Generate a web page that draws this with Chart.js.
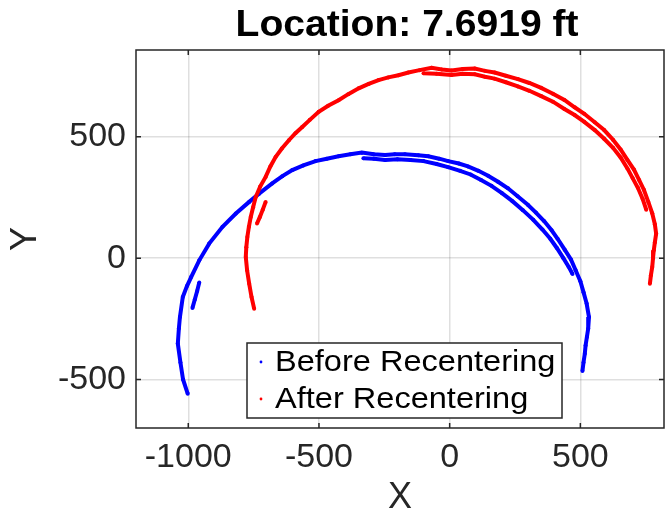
<!DOCTYPE html>
<html>
<head>
<meta charset="utf-8">
<script src="https://cdn.jsdelivr.net/npm/chart.js@4.4.1/dist/chart.umd.min.js"></script>
<style>
  html, body { margin: 0; padding: 0; background: #fff; }
  canvas { display: block; }
</style>
</head>
<body>
<canvas id="recenterChart" width="668" height="514"></canvas>
<script>
// Datos (null = corte entre trazos)
var chartTitle = "Location: 7.6919 ft";
var seriesNames = ["Before Recentering", "After Recentering"];
var xTicks = [-1000, -500, 0, 500];
var yTicks = [-500, 0, 500];

var beforeX = [-1002, -1020, -1030, -1040, -1036, -1032, -1021, -1005, -989, -958, -920, -869, -818, -767, -729, -679, -640, -602, -560, -513, -470, -425, -380, -336, -290, -247, -210, -171, -120, -82, -40, -6, 35, 70, 110, 147, 185, 223, 260, 299, 330, 362, 390, 413, 440, 464, 482, 500, 512, 524, 533, 530, 525, 520, 517, 512, 508,
  null,
  -330, -290, -247, -200, -150, -100, -50, -6, 40, 80, 120, 160, 200, 240, 280, 320, 355, 385, 410, 435, 455, 470,
  null,
  -958, -966, -975, -984];
var beforeY = [-559, -500, -430, -352, -290, -243, -160, -115, -78, -9, 60, 129, 184, 232, 266, 308, 338, 363, 382, 400, 410, 420, 428, 435, 428, 425, 428, 428, 424, 420, 410, 400, 390, 378, 360, 340, 315, 288, 255, 220, 188, 152, 115, 80, 35, -5, -50, -95, -140, -187, -243, -290, -325, -360, -394, -430, -465,
  null,
  412, 410, 405, 408, 405, 400, 388, 375, 360, 345, 322, 298, 268, 235, 198, 158, 118, 80, 42, 0, -35, -65,
  null,
  -100, -135, -170, -205];

var afterX = [-748, -758, -767, -775, -780, -778, -774, -768, -761, -752, -742, -725, -704, -686, -666, -642, -615, -590, -564, -535, -501, -465, -425, -388, -348, -310, -272, -235, -196, -158, -115, -69, -30, 7, 50, 96, 135, 172, 215, 261, 305, 350, 395, 439, 478, 515, 555, 591, 625, 654, 680, 705, 725, 743, 760, 775, 785, 790, 785, 781, 778, 775, 770, 766,
  null,
  -100, -50, 7, 50, 96, 135, 172, 215, 261, 305, 350, 395, 439, 478, 515, 555, 591, 625, 654, 680, 700, 720, 738, 752,
  null,
  -704, -715, -726, -737];
var afterY = [-208, -160, -105, -50, 5, 45, 87, 130, 170, 210, 252, 295, 335, 378, 417, 452, 486, 515, 541, 570, 603, 628, 651, 676, 700, 718, 734, 745, 754, 765, 775, 785, 778, 774, 780, 782, 772, 765, 752, 738, 722, 702, 678, 652, 622, 595, 560, 528, 488, 448, 405, 365, 322, 282, 232, 185, 140, 101, 65, 33, 0, -36, -70, -105,
  null,
  762, 760, 755, 760, 758, 748, 740, 725, 708, 690, 668, 645, 615, 590, 562, 528, 492, 455, 415, 370, 330, 290, 245, 200,
  null,
  232, 200, 170, 143];

var seriesColors = ["#0000ff", "#ff0000"];
var fontFamily = '"Liberation Sans", Arial, Helvetica, sans-serif';

function toPoints(xs, ys) {
  return xs.map(function (x, i) {
    return { x: x, y: ys[i] };
  });
}

// marco, marcas hacia adentro, titulo y leyenda al estilo MATLAB
var axesBoxPlugin = {
  id: "axesBox",
  afterDraw: function (chart) {
    var ctx = chart.ctx;
    var area = chart.chartArea;
    var sx = chart.scales.x;
    var sy = chart.scales.y;

    ctx.save();
    ctx.strokeStyle = "#262626";
    ctx.lineWidth = 1.5;
    ctx.strokeRect(area.left, area.top, area.right - area.left, area.bottom - area.top);

    ctx.beginPath();
    xTicks.forEach(function (v) {
      var px = sx.getPixelForValue(v);
      ctx.moveTo(px, area.bottom); ctx.lineTo(px, area.bottom - 5);
      ctx.moveTo(px, area.top); ctx.lineTo(px, area.top + 5);
    });
    yTicks.forEach(function (v) {
      var py = sy.getPixelForValue(v);
      ctx.moveTo(area.left, py); ctx.lineTo(area.left + 5, py);
      ctx.moveTo(area.right, py); ctx.lineTo(area.right - 5, py);
    });
    ctx.stroke();

    // titulo
    ctx.fillStyle = "#000";
    ctx.font = "bold 36px " + fontFamily;
    ctx.textAlign = "center";
    ctx.textBaseline = "alphabetic";
    ctx.save();
    ctx.translate(407, 36);
    ctx.scale(1.085, 1);
    ctx.fillText(chartTitle, 0, 0);
    ctx.restore();

    // leyenda
    var box = { left: 247, top: 343, right: 562, bottom: 418 };
    ctx.fillStyle = "#fff";
    ctx.fillRect(box.left, box.top, box.right - box.left, box.bottom - box.top);
    ctx.strokeStyle = "#262626";
    ctx.lineWidth = 1.5;
    ctx.strokeRect(box.left, box.top, box.right - box.left, box.bottom - box.top);

    var rows = [362, 399];
    chart.data.datasets.forEach(function (ds, i) {
      ctx.fillStyle = ds.backgroundColor;
      ctx.beginPath();
      ctx.arc(261, rows[i], 1.4, 0, Math.PI * 2);
      ctx.fill();
      ctx.fillStyle = "#000";
      ctx.font = "30px " + fontFamily;
      ctx.textAlign = "left";
      ctx.textBaseline = "middle";
      ctx.save();
      ctx.translate(275, rows[i] + 1);
      ctx.scale(1.085, 1);
      ctx.fillText(ds.label, 0, 0);
      ctx.restore();
    });
    ctx.restore();
  }
};

function GraficoRecentrado() {
  var canvas = document.getElementById("recenterChart");
  var ctx = canvas.getContext("2d");

  Chart.defaults.font.family = fontFamily;
  Chart.defaults.color = "#262626";

  var config = {
    type: "scatter",
    data: {
      datasets: [
        {
          label: seriesNames[0],
          data: toPoints(beforeX, beforeY),
          backgroundColor: seriesColors[0],
          borderColor: seriesColors[0],
          showLine: true,
          borderWidth: 4,
          pointRadius: 2,
          pointBorderWidth: 0,
          tension: 0,
          spanGaps: false,
          order: 2
        },
        {
          label: seriesNames[1],
          data: toPoints(afterX, afterY),
          backgroundColor: seriesColors[1],
          borderColor: seriesColors[1],
          showLine: true,
          borderWidth: 4,
          pointRadius: 2,
          pointBorderWidth: 0,
          tension: 0,
          spanGaps: false,
          order: 1
        }
      ]
    },
    options: {
      responsive: false,
      animation: false,
      devicePixelRatio: 1,
      layout: { padding: { top: 50, right: 1, left: 0, bottom: 0 } },
      scales: {
        x: {
          type: "linear",
          min: -1200,
          max: 820,
          afterBuildTicks: function (scale) {
            scale.ticks = xTicks.map(function (v) { return { value: v }; });
          },
          afterFit: function (scale) { scale.height = 86; },
          grid: { color: "rgba(38,38,38,0.15)", lineWidth: 1.5, drawTicks: false },
          border: { display: false },
          ticks: {
            font: { size: 34 }, color: "#262626", padding: 9, maxRotation: 0,
            callback: function (v) { return String(v); }
          },
          title: { display: true, text: "X", font: { size: 36, lineHeight: 0.9 }, color: "#262626", padding: 0 }
        },
        y: {
          type: "linear",
          min: -700,
          max: 858,
          afterBuildTicks: function (scale) {
            scale.ticks = yTicks.map(function (v) { return { value: v }; });
          },
          afterFit: function (scale) { scale.width = 136; },
          grid: { color: "rgba(38,38,38,0.15)", lineWidth: 1.5, drawTicks: false },
          border: { display: false },
          ticks: {
            font: { size: 34 }, color: "#262626", padding: 10,
            callback: function (v) { return String(v); }
          },
          title: { display: true, text: "Y", font: { size: 36, lineHeight: 1.2 }, color: "#262626", padding: { top: 4, bottom: 0 } }
        }
      },
      plugins: {
        legend: { display: false },
        title: { display: false },
        tooltip: { enabled: false }
      }
    },
    plugins: [axesBoxPlugin]
  };

  var grafico = new Chart(ctx, config);
}

GraficoRecentrado();
</script>
</body>
</html>
